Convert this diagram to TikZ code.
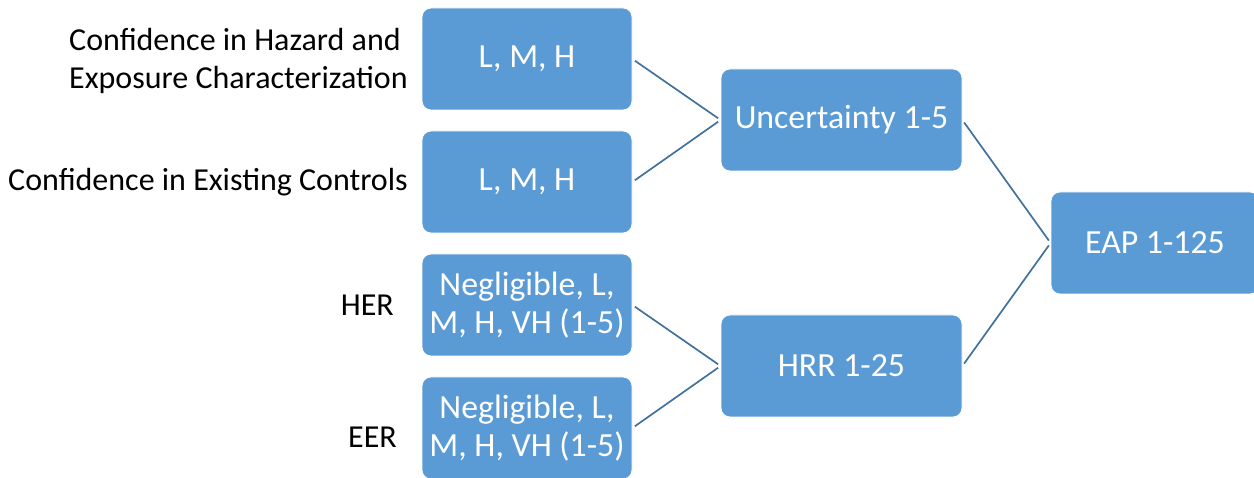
\documentclass[tikz,border=0pt]{standalone}
\usepackage{fontspec}
\setmainfont{Carlito}
\definecolor{boxblue}{RGB}{91,155,213}
\definecolor{linkblue}{RGB}{65,113,156}
\begin{document}
\begin{tikzpicture}[x=1pt,y=-1pt,
  every node/.style={font=\fontsize{32}{38}\selectfont},
  box/.style={fill=boxblue,draw=white,line width=0.8pt,rounded corners=9pt,
    text=white,align=center,inner sep=0pt,minimum height=102pt,
    font=\fontsize{33.8}{38}\selectfont},
  inbox/.style={box,minimum width=210pt},
  midbox/.style={box,minimum width=241pt},
  link/.style={draw=linkblue,line width=1.7pt,shorten <=3pt,shorten >=3pt},
  lbl/.style={inner sep=0pt,text=black}]
\useasboundingbox (0,0) rectangle (1254,478);
\node[inbox] (b1) at (527,59) {L, M, H};
\node[inbox] (b2) at (527,182) {L, M, H};
\node[inbox] (b3) at (527,305) {Negligible, L,\\M, H, VH (1-5)};
\node[inbox] (b4) at (527,428) {Negligible, L,\\M, H, VH (1-5)};
\node[midbox] (unc) at (841.5,120) {Uncertainty 1-5};
\node[midbox] (hrr) at (841.5,366) {HRR 1-25};
\node[box,minimum width=208pt] (eap) at (1155,243) {EAP 1-125};
\node[lbl,anchor=west,align=left] (l1) at (69,61) {Confidence in Hazard and\\Exposure Characterization};
\node[lbl,anchor=east] (l2) at (408,182) {Confidence in Existing Controls};
\node[lbl,anchor=east] (l3) at (394,305) {HER};
\node[lbl,anchor=east] (l4) at (397,437) {EER};
\draw[link] (b1.east) -- (unc.west);
\draw[link] (b2.east) -- (unc.west);
\draw[link] (b3.east) -- (hrr.west);
\draw[link] (b4.east) -- (hrr.west);
\draw[link] (unc.east) -- (eap.west);
\draw[link] (hrr.east) -- (eap.west);
\end{tikzpicture}
\end{document}
